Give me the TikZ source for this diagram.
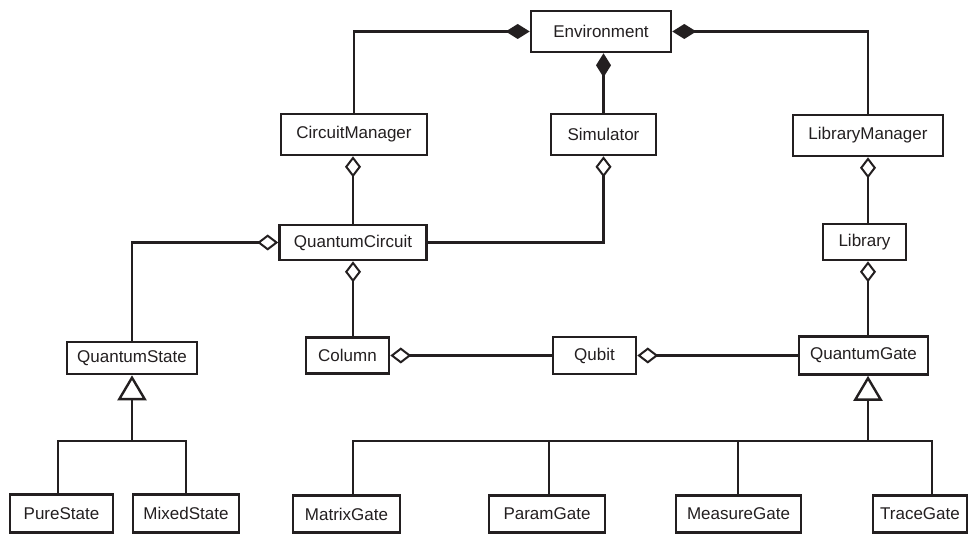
\documentclass[tikz,border=0pt]{standalone}
\usepackage{fontspec}
\setmainfont{Liberation Sans}
\usetikzlibrary{arrows.meta}
\definecolor{ink}{RGB}{35,31,32}
\begin{document}
\begin{tikzpicture}[x=1pt,y=-1pt,
  cls/.style={draw=ink, line width=2.6pt, fill=white, inner sep=0pt,
    font=\fontsize{17}{20}\selectfont, text=ink},
  link/.style={draw=ink, line width=2.4pt},
  comp/.style={link, -{Diamond[length=24pt,width=15pt]}},
  agg/.style={link, -{Diamond[open,length=21pt,width=16pt,line width=2pt]}},
  gen/.style={link, -{Triangle[open,length=25pt,width=29pt]}}]
\useasboundingbox (0,0) rectangle (970,534);

% classes
\node[cls, minimum width=140pt, minimum height=41pt] (Environment) at (601,31.5) {Environment};
\node[cls, minimum width=146pt, minimum height=41pt] (CircuitManager) at (354,134.5) {CircuitManager};
\node[cls, minimum width=105pt, minimum height=41pt] (Simulator) at (603.5,134.5) {Simulator};
\node[cls, minimum width=150pt, minimum height=41pt] (LibraryManager) at (868,135.5) {LibraryManager};
\node[cls, minimum width=147pt, minimum height=35pt] (QuantumCircuit) at (353,242.5) {QuantumCircuit};
\node[cls, minimum width=83pt, minimum height=36pt] (Library) at (864.5,242) {Library};
\node[cls, minimum width=130pt, minimum height=32pt] (QuantumState) at (132,358) {QuantumState};
\node[cls, minimum width=83pt, minimum height=36pt] (Column) at (347.5,355.5) {Column};
\node[cls, minimum width=83pt, minimum height=37pt] (Qubit) at (594.5,355.5) {Qubit};
\node[cls, minimum width=129pt, minimum height=38pt] (QuantumGate) at (863.5,355.5) {QuantumGate};
\node[cls, minimum width=103pt, minimum height=38pt] (PureState) at (61.5,513.5) {PureState};
\node[cls, minimum width=106pt, minimum height=38pt] (MixedState) at (186,513.5) {MixedState};
\node[cls, minimum width=107pt, minimum height=37pt] (MatrixGate) at (346.5,514) {MatrixGate};
\node[cls, minimum width=116pt, minimum height=37pt] (ParamGate) at (547,514) {ParamGate};
\node[cls, minimum width=125pt, minimum height=37pt] (MeasureGate) at (738.5,514) {MeasureGate};
\node[cls, minimum width=94pt, minimum height=37pt] (TraceGate) at (920,514) {TraceGate};

% composition
\draw[comp] (CircuitManager.north) |- (Environment.west);
\draw[comp] (LibraryManager.north) |- (Environment.east);
\draw[comp] (Simulator.north) -- (Simulator.north |- Environment.south);

% aggregation
\draw[agg] (QuantumCircuit.north) -- (QuantumCircuit.north |- CircuitManager.south);
\draw[agg] (QuantumCircuit.east) -| (Simulator.south);
\draw[agg] (Library.north -| LibraryManager.south) -- (LibraryManager.south);
\draw[agg] (QuantumGate.north -| LibraryManager.south) -- (Library.south -| LibraryManager.south);
\draw[agg] (QuantumState.north) |- (QuantumCircuit.west);
\draw[agg] (Column.north -| QuantumCircuit.south) -- (QuantumCircuit.south);
\draw[agg] (Qubit.west) -- (Column.east);
\draw[agg] (QuantumGate.west) -- (Qubit.east);

% generalisation of states
\coordinate (stJ) at (132,441);
\coordinate (stL) at (58,441);
\coordinate (stR) at (186,441);
\draw[gen] (stJ) -- (QuantumState.south);
\draw[link] (stL |- PureState.north) -- (stL) -- (stR) -- (MixedState.north);

% generalisation of gates
\coordinate (gJ) at (868,441);
\coordinate (gA) at (353,441);
\coordinate (gB) at (549,441);
\coordinate (gC) at (738,441);
\coordinate (gD) at (932,441);
\draw[gen] (gJ) -- (gJ |- QuantumGate.south);
\draw[link] (gA |- MatrixGate.north) -- (gA) -- (gD) -- (gD |- TraceGate.north);
\draw[link] (gB) -- (gB |- ParamGate.north);
\draw[link] (gC) -- (gC |- MeasureGate.north);
\end{tikzpicture}
\end{document}
